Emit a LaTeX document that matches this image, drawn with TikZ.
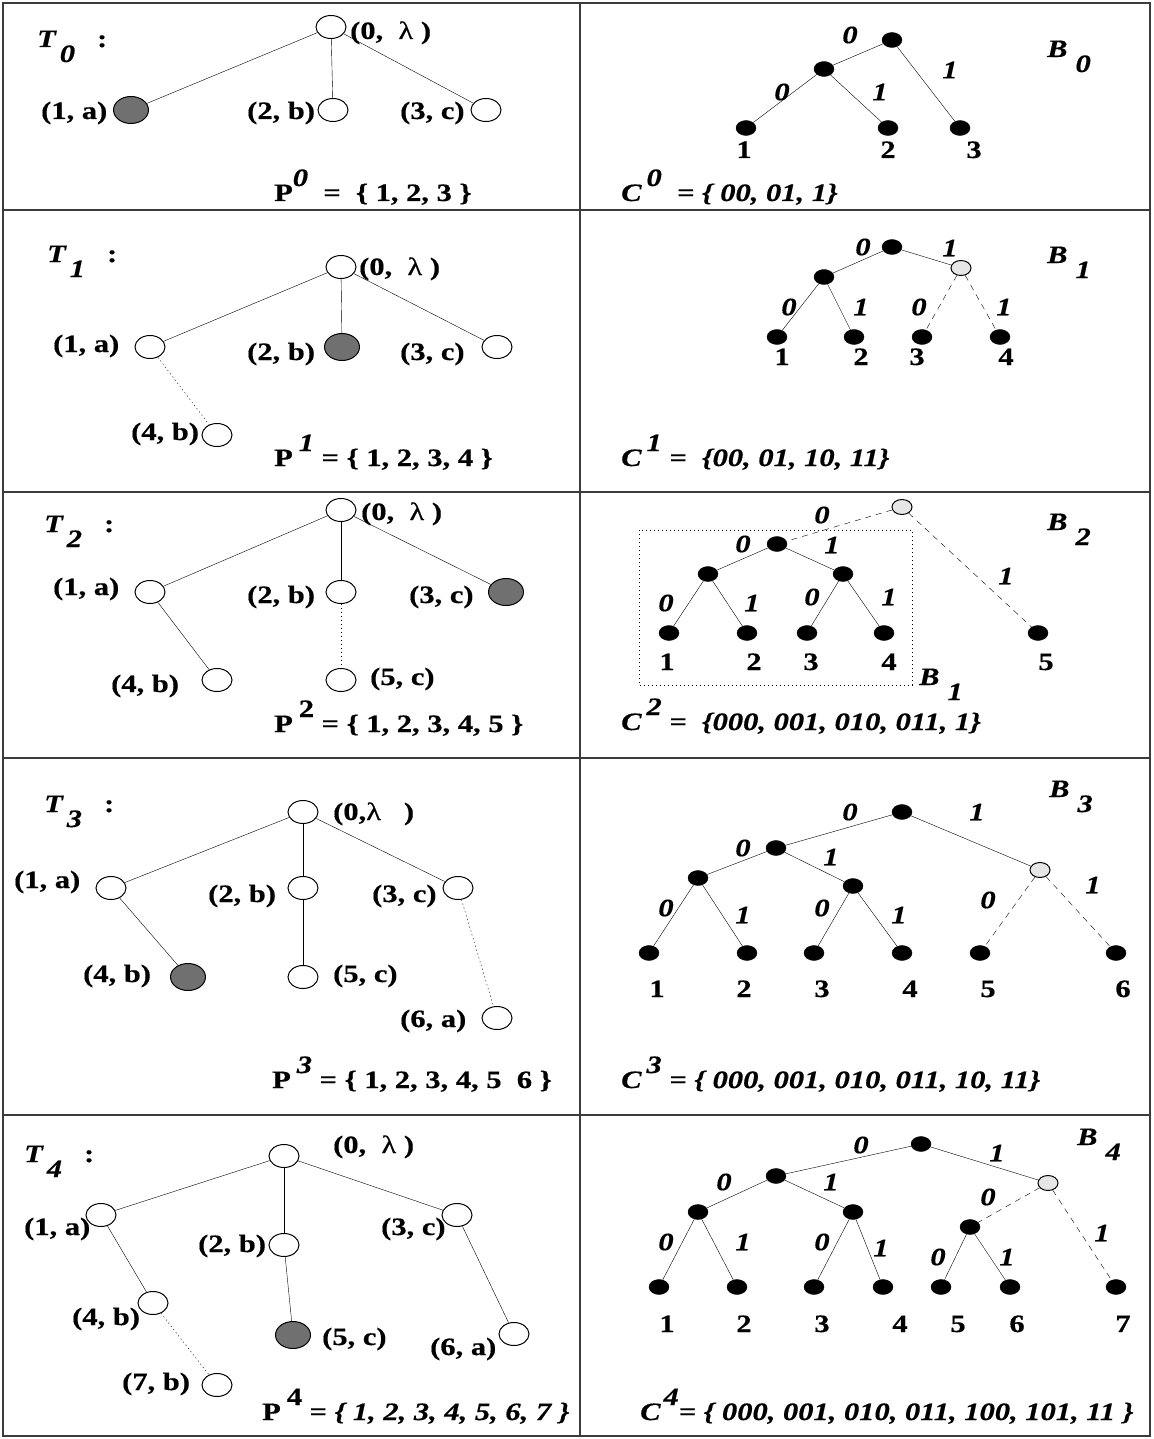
\documentclass[tikz,border=0pt]{standalone}
\usepackage{fontspec}
\setmainfont{Liberation Serif}[FakeStretch=1.22, FakeBold=0.5]
\usepackage{tikz}
\usetikzlibrary{backgrounds}
\usetikzlibrary{shapes,shapes.geometric}
\pgfdeclarelayer{edgelayer}
\pgfdeclarelayer{nodelayer}
\pgfsetlayers{background,edgelayer,nodelayer,main}
\newcommand{\figfont}{\fontsize{25}{29}\selectfont\bfseries}
\newcommand{\subdigit}[1]{\raisebox{-15pt}{#1}}
\newcommand{\supdigit}[1]{\raisebox{15pt}{#1}}
\newcommand{\tname}[1]{\textit{T}\kern3pt\subdigit{\textit{#1}}\hspace{22pt}:}
\newcommand{\bname}[1]{B\kern8pt\subdigit{#1}}
\newcommand{\rootlab}{(0,\ \ {\mdseries λ}\ )}
\tikzstyle{none}=[inner sep=0mm, font=\figfont]
\tikzstyle{lab}=[none, anchor=base west]
\tikzstyle{ilab}=[lab, font=\figfont\itshape]
\tikzstyle{num}=[none, anchor=base]
\tikzstyle{bit}=[none, font=\figfont\itshape]
\tikzstyle{wn}=[ellipse, draw=black, fill=white, line width=1pt, minimum width=30pt, minimum height=23pt, inner sep=0pt]
\tikzstyle{fn}=[wn, minimum width=35pt, minimum height=27pt]
\tikzstyle{bn}=[ellipse, draw=black, fill=black, minimum width=20pt, minimum height=15pt, inner sep=0pt]
\tikzstyle{gn}=[bn, line width=1pt]
\tikzstyle{dotedge}=[dash pattern=on 1.3pt off 2.7pt]
\tikzstyle{dashedge}=[dash pattern=on 6pt off 5pt]
\tikzstyle{rule}=[line width=1.5pt]
\tikzset{
	fn/.append style={fill={rgb,255:red,112;green,112;blue,112}},
	gn/.append style={fill={rgb,255:red,230;green,230;blue,230}},
	rule/.append style={draw={rgb,255:red,60;green,60;blue,60}}
}
\begin{document}
\begin{tikzpicture}[x=1pt, y=-1pt, line width=1pt]
	\useasboundingbox (0,0) rectangle (1153,1439);
	\begin{pgfonlayer}{nodelayer}
		% T_0
		\node [style=lab] (t0name) at (37, 47) {\tname{0}};
		\node [style=wn] (t0r) at (331, 27) {};
		\node [style=fn] (t0a) at (131, 110) {};
		\node [style=wn] (t0b) at (333, 110) {};
		\node [style=wn] (t0c) at (486, 110) {};
		\node [style=lab] (t0rl) at (350, 39) {\rootlab};
		\node [style=lab] (t0al) at (41, 119) {(1, a)};
		\node [style=lab] (t0bl) at (247, 119) {(2, b)};
		\node [style=lab] (t0cl) at (400, 119) {(3, c)};
		\node [style=lab] (t0p) at (274, 201) {P\supdigit{\textit{0}}\ \ =\ \ \{ 1, 2, 3 \}};
		% B_0
		\node [style=bn] (b0r) at (892, 40) {};
		\node [style=bn] (b0n0) at (824, 69) {};
		\node [style=bn] (b0n00) at (746, 128) {};
		\node [style=bn] (b0n01) at (888, 128) {};
		\node [style=bn] (b0n1) at (960, 128) {};
		\node [style=bit] (b0e0) at (850, 35) {0};
		\node [style=bit] (b0e1) at (950, 70) {1};
		\node [style=bit] (b0e00) at (782, 92) {0};
		\node [style=bit] (b0e01) at (880, 92) {1};
		\node [style=num] (b0k1) at (744, 158) {1};
		\node [style=num] (b0k2) at (888, 158) {2};
		\node [style=num] (b0k3) at (974, 158) {3};
		\node [style=ilab] (b0name) at (1047, 57) {\bname{0}};
		\node [style=ilab] (c0) at (621, 201) {C\kern5pt\supdigit{0}\ \ = \{ 00, 01, 1\}};
		% T_1
		\node [style=lab] (t1name) at (47, 262) {\tname{1}};
		\node [style=wn] (t1r) at (341, 267) {};
		\node [style=wn] (t1a) at (150, 347) {};
		\node [style=fn] (t1b) at (342, 347) {};
		\node [style=wn] (t1c) at (497, 347) {};
		\node [style=wn] (t1d) at (217, 435) {};
		\node [style=lab] (t1rl) at (359, 275) {\rootlab};
		\node [style=lab] (t1al) at (53, 352) {(1, a)};
		\node [style=lab] (t1bl) at (247, 360) {(2, b)};
		\node [style=lab] (t1cl) at (400, 360) {(3, c)};
		\node [style=lab] (t1dl) at (131, 440) {(4, b)};
		\node [style=lab] (t1p) at (274, 466) {P\kern6pt\supdigit{\textit{1}}\ = \{ 1, 2, 3, 4 \}};
		% B_1
		\node [style=bn] (b1r) at (892, 247) {};
		\node [style=bn] (b1n0) at (824, 277) {};
		\node [style=gn] (b1n1) at (961, 268) {};
		\node [style=bn] (b1n00) at (777, 337) {};
		\node [style=bn] (b1n01) at (854, 337) {};
		\node [style=bn] (b1n10) at (922, 337) {};
		\node [style=bn] (b1n11) at (1000, 337) {};
		\node [style=bit] (b1e0) at (863, 247) {0};
		\node [style=bit] (b1e1) at (950, 248) {1};
		\node [style=bit] (b1e00) at (789, 307) {0};
		\node [style=bit] (b1e01) at (861, 307) {1};
		\node [style=bit] (b1e10) at (919, 307) {0};
		\node [style=bit] (b1e11) at (1004, 307) {1};
		\node [style=num] (b1k1) at (782, 365) {1};
		\node [style=num] (b1k2) at (861, 365) {2};
		\node [style=num] (b1k3) at (917, 365) {3};
		\node [style=num] (b1k4) at (1006, 365) {4};
		\node [style=ilab] (b1name) at (1047, 263) {\bname{1}};
		\node [style=ilab] (c1) at (621, 466) {C\kern5pt\supdigit{1}\ =\ \ \{00, 01, 10, 11\}};
		% T_2
		\node [style=lab] (t2name) at (44, 532) {\tname{2}};
		\node [style=wn] (t2r) at (341, 510) {};
		\node [style=wn] (t2a) at (150, 592) {};
		\node [style=wn] (t2b) at (341, 592) {};
		\node [style=fn] (t2c) at (506, 592) {};
		\node [style=wn] (t2d) at (217, 680) {};
		\node [style=wn] (t2e) at (341, 680) {};
		\node [style=lab] (t2rl) at (361, 520) {\rootlab};
		\node [style=lab] (t2al) at (53, 595) {(1, a)};
		\node [style=lab] (t2bl) at (247, 603) {(2, b)};
		\node [style=lab] (t2cl) at (409, 603) {(3, c)};
		\node [style=lab] (t2dl) at (111, 692) {(4, b)};
		\node [style=lab] (t2el) at (370, 685) {(5, c)};
		\node [style=lab] (t2p) at (274, 732) {P\kern6pt\supdigit{2}\ = \{ 1, 2, 3, 4, 5 \}};
		% B_2
		\node [style=gn] (b2top) at (902, 507) {};
		\node [style=bn] (b2r) at (777, 544) {};
		\node [style=bn] (b2n0) at (708, 574) {};
		\node [style=bn] (b2n1) at (843, 574) {};
		\node [style=bn] (b2n00) at (669, 633) {};
		\node [style=bn] (b2n01) at (747, 633) {};
		\node [style=bn] (b2n10) at (807, 633) {};
		\node [style=bn] (b2n11) at (884, 633) {};
		\node [style=bn] (b2x) at (1038, 633) {};
		\node [style=bit] (b2et0) at (822, 515) {0};
		\node [style=bit] (b2et1) at (1006, 576) {1};
		\node [style=bit] (b2e0) at (743, 544) {0};
		\node [style=bit] (b2e1) at (832, 545) {1};
		\node [style=bit] (b2e00) at (666, 603) {0};
		\node [style=bit] (b2e01) at (752, 603) {1};
		\node [style=bit] (b2e10) at (812, 597) {0};
		\node [style=bit] (b2e11) at (889, 597) {1};
		\node [style=num] (b2k1) at (667, 670) {1};
		\node [style=num] (b2k2) at (754, 670) {2};
		\node [style=num] (b2k3) at (811, 670) {3};
		\node [style=num] (b2k4) at (889, 670) {4};
		\node [style=num] (b2k5) at (1046, 670) {5};
		\node [style=ilab] (b2name) at (1047, 530) {\bname{2}};
		\node [style=ilab] (b2sub) at (919, 685) {\bname{1}};
		\node [style=ilab] (c2) at (621, 730) {C\kern5pt\supdigit{2}\ =\ \ \{000, 001, 010, 011, 1\}};
		% T_3
		\node [style=lab] (t3name) at (44, 812) {\tname{3}};
		\node [style=wn] (t3r) at (303, 812) {};
		\node [style=wn] (t3a) at (111, 888) {};
		\node [style=wn] (t3b) at (303, 888) {};
		\node [style=wn] (t3c) at (458, 888) {};
		\node [style=fn] (t3d) at (188, 977) {};
		\node [style=wn] (t3e) at (303, 977) {};
		\node [style=wn] (t3f) at (497, 1018) {};
		\node [style=lab] (t3rl) at (333, 820) {(0,{\mdseries λ}\ \ \ )};
		\node [style=lab] (t3al) at (14, 888) {(1, a)};
		\node [style=lab] (t3bl) at (208, 902) {(2, b)};
		\node [style=lab] (t3cl) at (372, 902) {(3, c)};
		\node [style=lab] (t3dl) at (83, 982) {(4, b)};
		\node [style=lab] (t3el) at (333, 982) {(5, c)};
		\node [style=lab] (t3fl) at (400, 1027) {(6, a)};
		\node [style=lab] (t3p) at (272, 1088) {P\kern6pt\supdigit{\textit{3}}\ = \{ 1, 2, 3, 4, 5\ \ 6 \}};
		% B_3
		\node [style=bn] (b3r) at (902, 812) {};
		\node [style=bn] (b3n0) at (776, 848) {};
		\node [style=gn] (b3n1) at (1040, 870) {};
		\node [style=bn] (b3n00) at (698, 878) {};
		\node [style=bn] (b3n01) at (853, 886) {};
		\node [style=bn] (b3n000) at (649, 953) {};
		\node [style=bn] (b3n001) at (747, 953) {};
		\node [style=bn] (b3n010) at (814, 953) {};
		\node [style=bn] (b3n011) at (902, 953) {};
		\node [style=bn] (b3n10) at (980, 953) {};
		\node [style=bn] (b3n11) at (1116, 953) {};
		\node [style=bit] (b3e0) at (850, 812) {0};
		\node [style=bit] (b3e1) at (977, 812) {1};
		\node [style=bit] (b3e00) at (743, 848) {0};
		\node [style=bit] (b3e01) at (831, 857) {1};
		\node [style=bit] (b3e000) at (666, 908) {0};
		\node [style=bit] (b3e001) at (743, 915) {1};
		\node [style=bit] (b3e010) at (822, 908) {0};
		\node [style=bit] (b3e011) at (899, 915) {1};
		\node [style=bit] (b3e10) at (988, 900) {0};
		\node [style=bit] (b3e11) at (1093, 885) {1};
		\node [style=num] (b3k1) at (657, 997) {1};
		\node [style=num] (b3k2) at (744, 997) {2};
		\node [style=num] (b3k3) at (822, 997) {3};
		\node [style=num] (b3k4) at (910, 997) {4};
		\node [style=num] (b3k5) at (988, 997) {5};
		\node [style=num] (b3k6) at (1123, 997) {6};
		\node [style=ilab] (b3name) at (1049, 797) {\bname{3}};
		\node [style=ilab] (c3) at (621, 1088) {C\kern5pt\supdigit{3}\ = \{ 000, 001, 010, 011, 10, 11\}};
		% T_4
		\node [style=lab] (t4name) at (24, 1162) {\tname{4}};
		\node [style=wn] (t4r) at (284, 1156) {};
		\node [style=wn] (t4a) at (101, 1215) {};
		\node [style=wn] (t4b) at (284, 1245) {};
		\node [style=wn] (t4c) at (457, 1215) {};
		\node [style=wn] (t4d) at (153, 1303) {};
		\node [style=fn] (t4e) at (293, 1335) {};
		\node [style=wn] (t4f) at (514, 1334) {};
		\node [style=wn] (t4g) at (217, 1385) {};
		\node [style=lab] (t4rl) at (333, 1153) {\rootlab};
		\node [style=lab] (t4al) at (24, 1235) {(1, a)};
		\node [style=lab] (t4bl) at (198, 1252) {(2, b)};
		\node [style=lab] (t4cl) at (381, 1235) {(3, c)};
		\node [style=lab] (t4dl) at (72, 1325) {(4, b)};
		\node [style=lab] (t4el) at (322, 1345) {(5, c)};
		\node [style=lab] (t4fl) at (430, 1355) {(6, a)};
		\node [style=lab] (t4gl) at (122, 1390) {(7, b)};
		\node [style=lab] (t4p) at (262, 1420) {P\kern6pt\supdigit{4}\ = \textit{\{ 1, 2, 3, 4, 5, 6, 7 \}}};
		% B_4
		\node [style=bn] (b4r) at (921, 1144) {};
		\node [style=bn] (b4n0) at (776, 1176) {};
		\node [style=gn] (b4n1) at (1048, 1183) {};
		\node [style=bn] (b4n00) at (698, 1212) {};
		\node [style=bn] (b4n01) at (853, 1212) {};
		\node [style=bn] (b4n10) at (970, 1227) {};
		\node [style=bn] (b4n000) at (659, 1287) {};
		\node [style=bn] (b4n001) at (737, 1287) {};
		\node [style=bn] (b4n010) at (814, 1287) {};
		\node [style=bn] (b4n011) at (883, 1287) {};
		\node [style=bn] (b4n100) at (941, 1287) {};
		\node [style=bn] (b4n101) at (1010, 1287) {};
		\node [style=bn] (b4n11) at (1116, 1287) {};
		\node [style=bit] (b4e0) at (861, 1145) {0};
		\node [style=bit] (b4e1) at (997, 1153) {1};
		\node [style=bit] (b4e00) at (724, 1182) {0};
		\node [style=bit] (b4e01) at (831, 1182) {1};
		\node [style=bit] (b4e10) at (988, 1197) {0};
		\node [style=bit] (b4e000) at (666, 1242) {0};
		\node [style=bit] (b4e001) at (743, 1242) {1};
		\node [style=bit] (b4e010) at (822, 1242) {0};
		\node [style=bit] (b4e011) at (881, 1248) {1};
		\node [style=bit] (b4e100) at (938, 1257) {0};
		\node [style=bit] (b4e101) at (1007, 1257) {1};
		\node [style=bit] (b4e11) at (1102, 1233) {1};
		\node [style=num] (b4k1) at (667, 1332) {1};
		\node [style=num] (b4k2) at (744, 1332) {2};
		\node [style=num] (b4k3) at (822, 1332) {3};
		\node [style=num] (b4k4) at (900, 1332) {4};
		\node [style=num] (b4k5) at (958, 1332) {5};
		\node [style=num] (b4k6) at (1017, 1332) {6};
		\node [style=num] (b4k7) at (1123, 1332) {7};
		\node [style=ilab] (b4name) at (1077, 1145) {\bname{4}};
		\node [style=ilab] (c4) at (640, 1420) {C\kern3pt\supdigit{4}= \{ 000, 001, 010, 011, 100, 101, 11 \}};
	\end{pgfonlayer}
	\begin{pgfonlayer}{edgelayer}
		\draw (t0r) to (t0a);
		\draw (t0r) to (t0b);
		\draw (t0r) to (t0c);
		\draw (b0r) to (b0n0);
		\draw (b0r) to (b0n1);
		\draw (b0n0) to (b0n00);
		\draw (b0n0) to (b0n01);
		\draw (t1r) to (t1a);
		\draw (t1r) to (t1b);
		\draw (t1r) to (t1c);
		\draw [style=dotedge] (t1a) to (t1d);
		\draw (b1r) to (b1n0);
		\draw (b1r) to (b1n1);
		\draw (b1n0) to (b1n00);
		\draw (b1n0) to (b1n01);
		\draw [style=dashedge] (b1n1) to (b1n10);
		\draw [style=dashedge] (b1n1) to (b1n11);
		\draw (t2r) to (t2a);
		\draw (t2r) to (t2b);
		\draw (t2r) to (t2c);
		\draw (t2a) to (t2d);
		\draw [style=dotedge] (t2b) to (t2e);
		\draw [style=dashedge] (b2top) to (b2r);
		\draw [style=dashedge] (b2top) to (b2x);
		\draw (b2r) to (b2n0);
		\draw (b2r) to (b2n1);
		\draw (b2n0) to (b2n00);
		\draw (b2n0) to (b2n01);
		\draw (b2n1) to (b2n10);
		\draw (b2n1) to (b2n11);
		\draw [style=dotedge] (639, 530) rectangle (912, 685);
		\draw (t3r) to (t3a);
		\draw (t3r) to (t3b);
		\draw (t3r) to (t3c);
		\draw (t3a) to (t3d);
		\draw (t3b) to (t3e);
		\draw [style=dotedge] (t3c) to (t3f);
		\draw (b3r) to (b3n0);
		\draw (b3r) to (b3n1);
		\draw (b3n0) to (b3n00);
		\draw (b3n0) to (b3n01);
		\draw (b3n00) to (b3n000);
		\draw (b3n00) to (b3n001);
		\draw (b3n01) to (b3n010);
		\draw (b3n01) to (b3n011);
		\draw [style=dashedge] (b3n1) to (b3n10);
		\draw [style=dashedge] (b3n1) to (b3n11);
		\draw (t4r) to (t4a);
		\draw (t4r) to (t4b);
		\draw (t4r) to (t4c);
		\draw (t4a) to (t4d);
		\draw (t4b) to (t4e);
		\draw (t4c) to (t4f);
		\draw [style=dotedge] (t4d) to (t4g);
		\draw (b4r) to (b4n0);
		\draw (b4r) to (b4n1);
		\draw (b4n0) to (b4n00);
		\draw (b4n0) to (b4n01);
		\draw (b4n00) to (b4n000);
		\draw (b4n00) to (b4n001);
		\draw (b4n01) to (b4n010);
		\draw (b4n01) to (b4n011);
		\draw (b4n10) to (b4n100);
		\draw (b4n10) to (b4n101);
		\draw [style=dashedge] (b4n1) to (b4n10);
		\draw [style=dashedge] (b4n1) to (b4n11);
	\end{pgfonlayer}
	% table rules
	\draw [style=rule] (3, 3) rectangle (1150, 1436);
	\draw [style=rule] (580, 3) -- (580, 1436);
	\foreach \y in {210, 492, 758, 1115}
		\draw [style=rule] (3, \y) -- (1150, \y);
\end{tikzpicture}
\end{document}
